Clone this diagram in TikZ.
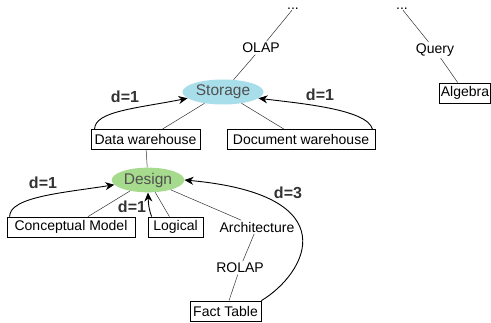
\documentclass[tikz,border=0pt]{standalone}
\usepackage{fontspec}
\setmainfont{Liberation Sans}
\usetikzlibrary{arrows.meta,shapes.geometric}
\definecolor{c1}{RGB}{168,221,234}
\definecolor{c2}{RGB}{166,218,140}
\definecolor{c3}{RGB}{80,80,80}
\tikzstyle{map}=[
    x=1pt, y=-1pt,
    every node/.style={font={\fontsize{14}{16}\selectfont}, inner sep=1.5pt},
    concept/.style={ellipse, text=c3, font={\fontsize{15.5}{17}\selectfont}, minimum width=76pt, minimum height=25pt},
    leaf/.style={draw, line width=0.8pt, minimum height=20pt},
    more/.style={anchor=base, inner sep=0pt, text height=2pt, text depth=0pt},
    link/.style={draw=black!80, line width=0.5pt},
    jump/.style={-{Stealth[length=9pt,width=8pt]}, line width=0.9pt},
    dist/.style={text=black!80, font={\fontsize{16}{18}\selectfont\bfseries}}
]

\begin{document}
\begin{tikzpicture}[map]
    \useasboundingbox (0,0) rectangle (491,323);
    % upper part
    \node[more] (more1) at (293,10) {...};
    \node[more] (more2) at (402,10) {...};
    \node (olap) at (261,48) {OLAP};
    \node (query) at (435,50) {Query};
    \node[concept, fill=c1] (storage) at (223,92) {Storage};
    \node[leaf, minimum width=50pt] (algebra) at (465,93) {Algebra};
    \node[leaf, minimum width=109pt] (dwh) at (145.5,139.5) {Data warehouse};
    \node[leaf, minimum width=148pt] (docwh) at (301,139.5) {Document warehouse};
    % lower part
    \node[concept, fill=c2, minimum width=70pt, minimum height=21pt] (design) at (148,180) {Design};
    \node[leaf, minimum width=128pt] (conceptual) at (71,227) {Conceptual Model};
    \node[leaf, minimum width=55pt] (logical) at (175.5,227) {Logical};
    \node (arch) at (257,227) {Architecture};
    \node (rolap) at (240,268) {ROLAP};
    \node[leaf, minimum width=71pt] (fact) at (225.5,311) {Fact Table};

    \draw[link] (more1) -- (olap) -- (storage);
    \draw[link] (more2) -- (query) -- (algebra);
    \draw[link] (storage) -- (dwh);
    \draw[link] (storage) -- (docwh);
    \draw[link] (dwh) -- (design);
    \draw[link] (design) -- (conceptual);
    \draw[link] (design) -- (logical);
    \draw[link] (design) -- (arch) -- (rolap) -- (fact);

    % distances
    \draw[jump] (dwh.north west) ++(4,0) .. controls +(0,-18) and +(-50,10) .. (storage.190);
    \draw[jump] (docwh.north east) ++(-3,0) .. controls +(-5,-20) and +(40,5) .. (storage.-10);
    \draw[jump] (conceptual.north west) ++(3,0) .. controls +(0,-20) and +(-50,8) .. (design.188);
    \draw[jump] (logical.north west) ++(4,0) to[out=110,in=-88] (design.south);
    \draw[jump] (fact.north east) .. controls +(45,-27) and +(165,15) .. (design.east);
    \node[dist] (d1) at (125,97) {d=1};
    \node[dist] (d2) at (320,95) {d=1};
    \node[dist] (d3) at (43,183) {d=1};
    \node[dist] (d4) at (132,207) {d=1};
    \node[dist] (d5) at (288,193) {d=3};
\end{tikzpicture}
\end{document}
